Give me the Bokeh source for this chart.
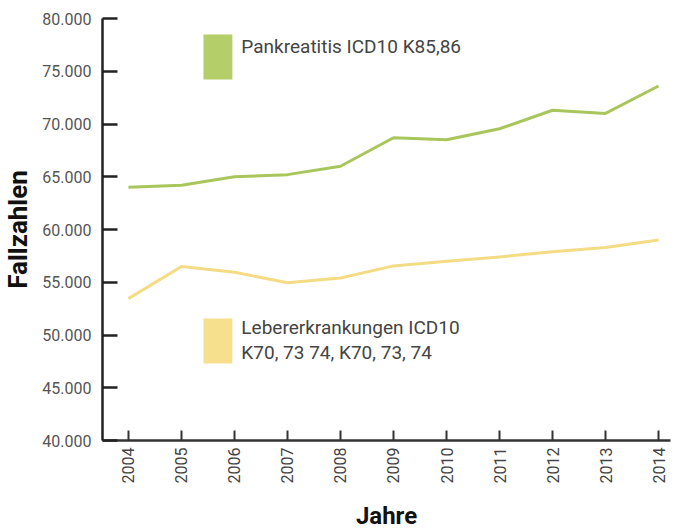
from bokeh.plotting import figure
from bokeh.models import Range1d, FixedTicker, BoxAnnotation, Label
from bokeh.embed import file_html
from bokeh.resources import INLINE
import math

years = [2004, 2005, 2006, 2007, 2008, 2009, 2010, 2011, 2012, 2013, 2014]
pankreatitis = [64000, 64200, 65000, 65200, 66000, 68700, 68500, 69550, 71300, 71000, 73600]
leber = [53450, 56500, 55950, 54950, 55400, 56550, 57000, 57400, 57900, 58300, 59000]
y_ticks = [40000, 45000, 50000, 55000, 60000, 65000, 70000, 75000, 80000]
y_tick_labels = {v: f"{v:,}".replace(",", ".") for v in y_ticks}
label_pank = "Pankreatitis ICD10 K85,86"
label_leber_1 = "Lebererkrankungen ICD10"
label_leber_2 = "K70, 73 74, K70, 73, 74"

GREEN_LINE = "#a9c65c"
YELLOW_LINE = "#f4dc84"
GREEN = "#b4ce6a"
YELLOW = "#f6e08e"
FONT = "Roboto"

p = figure(frame_width=568, frame_height=422,
           x_range=Range1d(2003.51, 2014.226), y_range=Range1d(40000, 80000),
           output_backend="svg", toolbar_location=None,
           min_border_left=102, min_border_right=1, min_border_top=18, min_border_bottom=90)
p.outline_line_color = None
p.xgrid.visible = False
p.ygrid.visible = False

p.line(years, pankreatitis, line_color=GREEN_LINE, line_width=3)
p.line(years, leber, line_color=YELLOW_LINE, line_width=3)

# legend swatches and labels
p.add_layout(BoxAnnotation(left=2005.415, right=2005.96, top=78480, bottom=74220,
                           fill_color=GREEN, fill_alpha=1, line_color=None))
p.add_layout(BoxAnnotation(left=2005.415, right=2005.96, top=51560, bottom=47300,
                           fill_color=YELLOW, fill_alpha=1, line_color=None))
p.add_layout(Label(x=2006.13, y=77300, text=label_pank, text_font=FONT, text_font_size="19px",
                   text_color="#444444", text_baseline="middle"))
p.add_layout(Label(x=2006.13, y=50700, text=label_leber_1, text_font=FONT, text_font_size="19px",
                   text_color="#444444", text_baseline="middle"))
p.add_layout(Label(x=2006.13, y=48330, text=label_leber_2, text_font=FONT, text_font_size="19px",
                   text_color="#444444", text_baseline="middle"))

# y axis
ya = p.yaxis[0]
ya.ticker = FixedTicker(ticks=y_ticks)
ya.major_label_overrides = y_tick_labels
ya.major_tick_in = 15
ya.major_tick_out = 0
ya.minor_tick_in = 0
ya.minor_tick_out = 0
ya.axis_line_width = 2.5
ya.axis_line_color = "#222222"
ya.major_tick_line_width = 2.5
ya.major_tick_line_color = "#222222"
ya.major_label_text_font = FONT
ya.major_label_text_font_size = "16px"
ya.major_label_text_color = "#555555"
ya.major_label_standoff = 11
ya.axis_label = "Fallzahlen"
ya.axis_label_text_font = FONT
ya.axis_label_text_font_size = "26px"
ya.axis_label_text_font_style = "bold"
ya.axis_label_text_color = "#111111"
ya.axis_label_standoff = 6

# x axis
xa = p.xaxis[0]
xa.ticker = FixedTicker(ticks=years)
xa.major_label_orientation = math.pi / 2
xa.major_tick_in = 10
xa.major_tick_out = 0
xa.minor_tick_in = 0
xa.minor_tick_out = 0
xa.axis_line_width = 2.5
xa.axis_line_color = "#333333"
xa.major_tick_line_width = 2
xa.major_tick_line_color = "#333333"
xa.major_label_text_font = FONT
xa.major_label_text_font_size = "16px"
xa.major_label_text_color = "#444444"
xa.major_label_standoff = 7
xa.axis_label = "Jahre"
xa.axis_label_text_font = FONT
xa.axis_label_text_font_size = "24px"
xa.axis_label_text_font_style = "bold"
xa.axis_label_text_color = "#111111"
xa.axis_label_standoff = 16

open("out.html", "w").write(file_html(p, INLINE))
